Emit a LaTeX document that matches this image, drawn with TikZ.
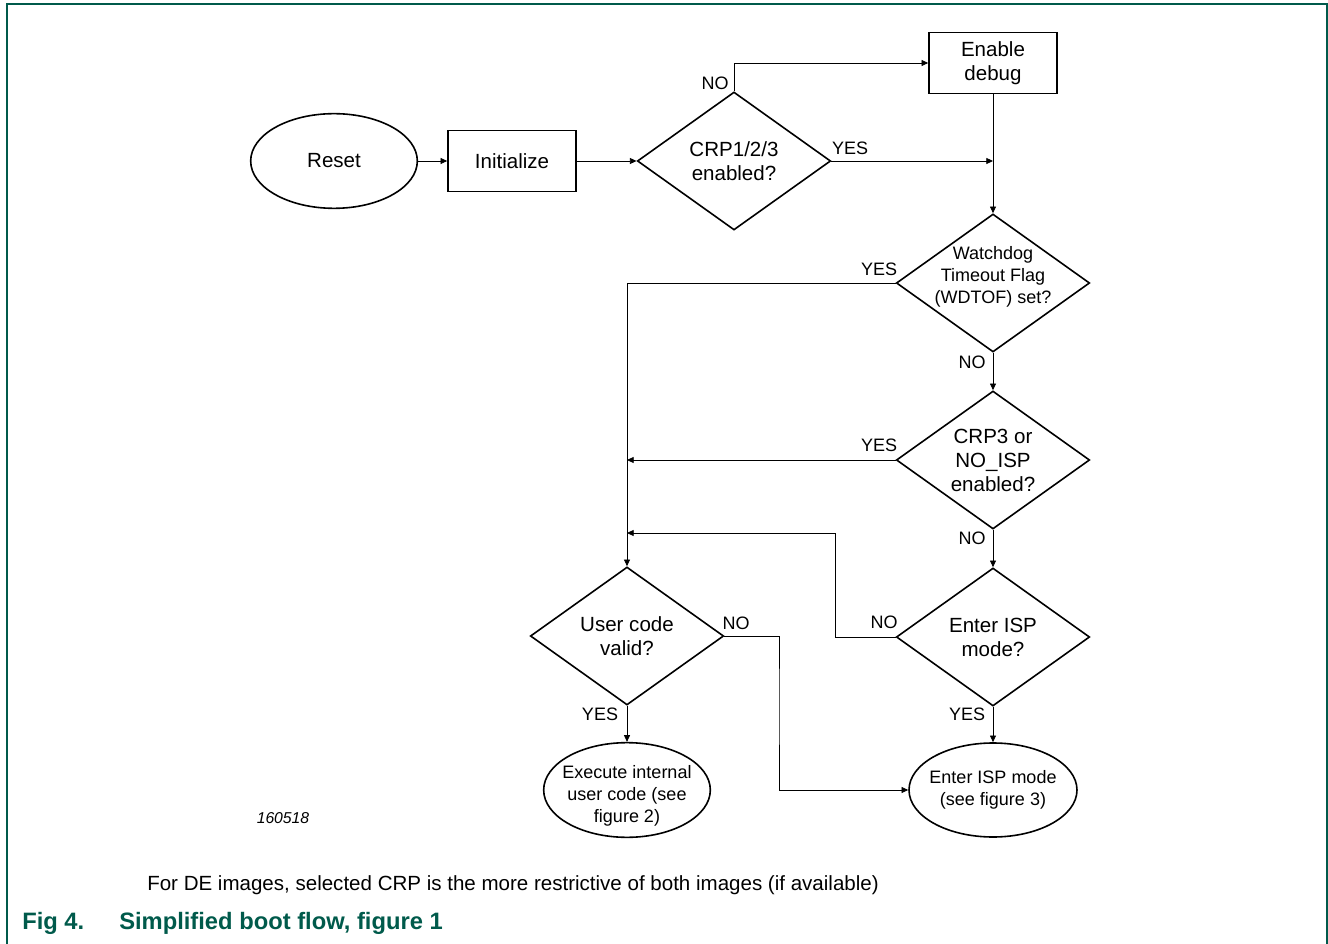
\documentclass[tikz,border=0pt]{standalone}
\usepackage{fontspec}
\setmainfont{Liberation Sans}
\usepackage{tikz}
\usetikzlibrary{arrows.meta}
\usetikzlibrary{shapes.geometric}
\definecolor{nxpgreen}{HTML}{005A4B}

\begin{document}
\begin{tikzpicture}[x=0.75pt, y=-0.75pt,
        every node/.style={font=\fontsize{15.4}{18}\selectfont,
            align=center,
            inner sep=0pt},
        process/.style={draw, line width=1.2pt, minimum width=96pt, minimum height=46pt},
        terminal/.style={draw, ellipse, line width=1.2pt, minimum width=125pt, minimum height=71pt},
        decision/.style={draw, diamond, line width=1.2pt, minimum width=145pt, minimum height=103.5pt},
        small/.style={font=\fontsize{13.5}{16.5}\selectfont},
        answer/.style={font=\fontsize{13.5}{16}\selectfont},
        conn/.style={->, line width=0.6pt},
        >={Triangle[length=5pt, width=4.5pt]}]
    \useasboundingbox (0,0) rectangle (1328,944);
    % frame
    \draw[nxpgreen, line width=1.5pt] (6.5,944) -- (6.5,4.5) -- (1327,4.5) -- (1327,944);
    % shapes
    \node[terminal] at (334,161) (reset) {Reset};
    \node[process] at (512,161) (init) {Initialize};
    \node[decision, label={center:{CRP1/2/3\\enabled?}}] at (734,161) (crp) {};
    \node[process] at (993,63) (debug) {Enable\\debug};
    \node[decision, label={[small, yshift=4.5pt]center:{Watchdog\\Timeout Flag\\(WDTOF) set?}}] at (993,283) (wdt) {};
    \node[decision, label={center:{CRP3 or\\NO\_ISP\\enabled?}}] at (993,460) (crpthree) {};
    \node[decision, label={center:{Enter ISP\\mode?}}] at (993,637) (isp) {};
    \node[decision, label={center:{User code\\valid?}}] at (627,636) (user) {};
    \node[terminal, label={[small, yshift=-4.5pt]center:{Execute internal\\user code (see\\figure 2)}}] at (627,790) (exec) {};
    \node[terminal, minimum width=126pt, minimum height=70.5pt, label={[small]center:{Enter ISP mode\\(see figure 3)}}] at (993,790) (ispmode) {};
    % helper points
    \coordinate (crpjoin) at (debug.south |- crp.east);
    \coordinate (yesjoin) at (user.north |- crpthree.west);
    \coordinate (nobend) at (835,533);
    \coordinate (nojoin) at (user.north |- nobend);
    \coordinate (userbend) at (779,700);
    % connectors
    \draw[conn] (reset) -- (init);
    \draw[conn] (init.east) -- (crp.west);
    \draw[conn] (crp.north) |- (debug.west);
    \draw[conn] (crp.east) -- (crpjoin);
    \draw[conn] (debug.south) -- (wdt.north);
    \draw[conn] (wdt.west) -| (user.north);
    \draw[conn] (wdt.south) -- (crpthree.north);
    \draw[conn] (crpthree.west) -- (yesjoin);
    \draw[conn] (crpthree.south) -- (isp.north);
    \draw[conn] (isp.west) -| (nobend) -- (nojoin);
    \draw[conn] (user.east) -| (userbend) |- (ispmode.west);
    \draw[conn] (user.south) -- (exec.north);
    \draw[conn] (isp.south) -- (ispmode.north);
    % answers
    \node[answer] at (715,83) (crpno) {NO};
    \node[answer] at (850,148) (crpyes) {YES};
    \node[answer] at (879,269) (wdtyes) {YES};
    \node[answer] at (972,362) (wdtno) {NO};
    \node[answer] at (879,445) (crpthreeyes) {YES};
    \node[answer] at (972,538) (crpthreeno) {NO};
    \node[answer] at (884,622) (ispno) {NO};
    \node[answer] at (967,714) (ispyes) {YES};
    \node[answer] at (736,623) (userno) {NO};
    \node[answer] at (600,714) (useryes) {YES};
    % texts
    \node[font=\itshape\fontsize{11.8}{14}\selectfont] at (283,818) (figid) {160518};
    \node[anchor=west] at (147,885) (note) {For DE images, selected CRP is the more restrictive of both images (if available)};
    \node[font=\bfseries\fontsize{17.8}{20}\selectfont, text=nxpgreen, anchor=west] at (22,923) (fignum) {Fig 4.};
    \node[font=\bfseries\fontsize{17.8}{20}\selectfont, text=nxpgreen, anchor=west] at (119,923) (figtitle) {Simplified boot flow, figure 1};
\end{tikzpicture}
\end{document}
